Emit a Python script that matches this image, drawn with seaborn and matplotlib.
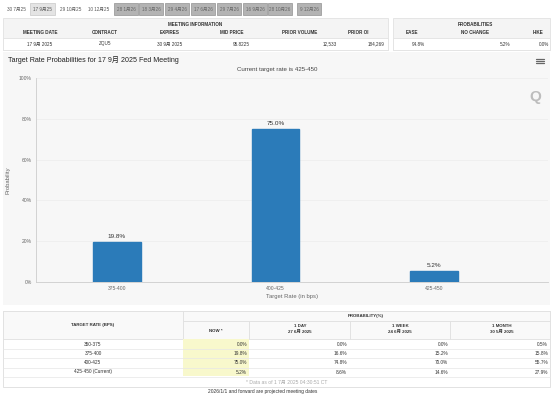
"""
CME FedWatch - 17 9月 2025 议息会议目标利率概率
"""
import matplotlib
matplotlib.use('Agg')
import matplotlib.pyplot as plt
from matplotlib.patches import Rectangle
import seaborn as sns
import pandas as pd

# ---- 数据 ----
meeting_tabs = ['30 7月25', '17 9月25', '29 10月25', '10 12月25']
future_tabs = ['28 1月26', '18 3月26', '29 4月26', '17 6月26',
               '29 7月26', '16 9月26', '28 10月26', '9 12月26']

info_headers = ['MEETING DATE', 'CONTRACT', 'EXPIRES', 'MID PRICE', 'PRIOR VOLUME', 'PRIOR OI']
info_values = ['17 9月 2025', 'ZQU5', '30 9月 2025', '95.8225', '12,533', '184,269']
prob_headers = ['EASE', 'NO CHANGE', 'HIKE']
prob_values = ['94.8%', '5.2%', '0.0%']

bar_ranges = ['375-400', '400-425', '425-450']
bar_probs = [19.8, 75.0, 5.2]

table_ranges = ['350-375', '375-400', '400-425', '425-450 (Current)']
now_probs = [0.0, 19.8, 75.0, 5.2]
day_probs = [0.0, 16.6, 74.8, 8.6]
week_probs = [0.0, 15.2, 70.0, 14.6]
month_probs = [0.5, 15.8, 55.7, 27.9]

sns.set_theme(style='white')
plt.rcParams['font.family'] = ['Liberation Sans', 'Noto Sans CJK SC', 'DejaVu Sans']

W, H = 553, 397
fig = plt.figure(figsize=(W / 100, H / 100), dpi=100)
fig.patch.set_facecolor('white')


def fx(x):
    return x / W


def fy(y):
    return 1 - y / H


def box(x0, y0, x1, y1, fc, ec='none', lw=0.6, z=0):
    fig.add_artist(Rectangle((fx(x0), fy(y1)), fx(x1 - x0), (y1 - y0) / H,
                             transform=fig.transFigure, facecolor=fc,
                             edgecolor=ec, linewidth=lw, zorder=z))


def txt(x, y, s, size=3.6, ha='center', color='#333333', **kw):
    fig.text(fx(x), fy(y), s, fontsize=size, ha=ha, va='center', color=color, **kw)


# ---- 顶部标签页 ----
tab_x = [(4, 29), (30, 55), (57, 84), (86, 111)]
for (a, b), lab in zip(tab_x, meeting_tabs):
    if lab == '17 9月25':
        box(a, 3, b, 15, '#e4e4e4', '#cfcfcf')
    txt((a + b) / 2, 9, lab, size=3.3, color='#555555')
fut_x = [114, 139, 165, 191, 217, 243, 268, 297]
for a, lab in zip(fut_x, future_tabs):
    box(a, 3, a + 24, 15, '#b3b3b3', '#9e9e9e')
    txt(a + 12, 9, lab, size=3.3, color='#666666')

# ---- 会议信息表 ----
box(3, 18, 388, 50, '#f4f4f4', '#e2e2e2')
box(3, 38, 388, 50, 'white', '#e2e2e2')
box(393, 18, 550, 50, '#f4f4f4', '#e2e2e2')
box(393, 38, 550, 50, 'white', '#e2e2e2')
txt(195, 24, 'MEETING INFORMATION', size=3.3, weight='bold')
txt(475, 24, 'PROBABILITIES', size=3.3, weight='bold')
info_x = [40, 105, 170, 232, 300, 358]
for i, (hd, v) in enumerate(zip(info_headers, info_values)):
    txt(info_x[i], 33, hd, size=3.3, weight='bold')
    vx = [40, 105, 170, 250, 337, 385][i]
    txt(vx, 44, v, size=3.3, ha='center' if i < 3 else 'right')
prob_x = [412, 475, 538]
prob_vx = [425, 510, 549]
for hx, vx, hd, v in zip(prob_x, prob_vx, prob_headers, prob_values):
    txt(hx, 33, hd, size=3.3, weight='bold')
    txt(vx, 44, v, size=3.3, ha='right')

# ---- 图表区域 ----
box(3, 52, 550, 305, '#f7f7f7')
txt(8, 60, 'Target Rate Probabilities for 17 9月 2025 Fed Meeting', size=5.1,
    ha='left', color='#222222')
txt(277, 69, 'Current target rate is 425-450', size=4.4, color='#444444')
for dy in (-2, 0, 2):
    fig.add_artist(plt.Line2D([fx(536), fx(544)], [fy(61 + dy)] * 2,
                              transform=fig.transFigure, color='#666666', lw=0.9))
txt(535, 97, 'Q', size=11, color='#bdbdbd', weight='bold')

ax = fig.add_axes([fx(36), fy(282), fx(548 - 36), (282 - 78) / H])
ax.set_facecolor('none')
df = pd.DataFrame({'range': bar_ranges, 'prob': bar_probs})
sns.barplot(data=df, x='range', y='prob', color='#2b7bb9', saturation=1,
            width=0.3, ax=ax, edgecolor='#2b7bb9')
for i, v in enumerate(bar_probs):
    ax.text(i, v + 1.5, f'{v:.1f}%', ha='center', va='bottom', fontsize=4.6, color='#333333')
ax.set_xlim(-0.51, 2.72)
ax.set_ylim(0, 100)
ax.set_yticks([0, 20, 40, 60, 80, 100])
ax.set_yticklabels(['0%', '20%', '40%', '60%', '80%', '100%'])
ax.tick_params(axis='both', labelsize=3.6, colors='#666666', length=0, pad=3)
ax.grid(axis='y', color='#ececec', linewidth=0.5)
ax.set_axisbelow(True)
for s in ['top', 'right']:
    ax.spines[s].set_visible(False)
ax.spines['left'].set_color('#cccccc')
ax.spines['bottom'].set_color('#cccccc')
ax.spines['left'].set_linewidth(0.6)
ax.spines['bottom'].set_linewidth(0.6)
ax.set_xlabel('Target Rate (in bps)', fontsize=4.2, color='#666666', labelpad=2)
ax.set_ylabel('Probability', fontsize=4.2, color='#666666', labelpad=6)

# ---- 底部概率表 ----
box(3, 311, 550, 387, 'white', '#dddddd')
box(3, 311, 183, 339, '#f9f9f9', '#e0e0e0')
box(183, 311, 550, 321, '#f9f9f9', '#e0e0e0')
box(183, 321, 249, 339, '#f9f9f9', '#e0e0e0')
for a, b in [(249, 350), (350, 450), (450, 550)]:
    box(a, 321, b, 339, '#f9f9f9', '#e0e0e0')
box(183, 339, 249, 376, '#f8f8cc')
txt(93, 325, 'TARGET RATE (BPS)', size=3.2, weight='bold')
txt(366, 316, 'PROBABILITY(%)', size=3.2, weight='bold')
txt(216, 331, 'NOW *', size=3.2, weight='bold')
col_hdr = [('1 DAY', '27 6月 2025', 300), ('1 WEEK', '24 6月 2025', 400),
           ('1 MONTH', '30 5月 2025', 502)]
for top, sub, cx in col_hdr:
    txt(cx, 326, top, size=3.2, weight='bold')
    txt(cx, 331.5, sub, size=3.2, weight='bold')

row_y = [344, 353.5, 363, 372]
for i, y in enumerate(row_y):
    fig.add_artist(plt.Line2D([fx(3), fx(550)], [fy(y + 4.5)] * 2,
                              transform=fig.transFigure, color='#e6e6e6', lw=0.5))
    txt(93, y, table_ranges[i], size=3.4)
    for vx, arr in zip([247, 347, 448, 548], [now_probs, day_probs, week_probs, month_probs]):
        txt(vx, y, f'{arr[i]:.1f}%', size=3.4, ha='right')
txt(287, 382, '* Data as of 1 7月 2025 04:30:51 CT', size=3.6, color='#aaaaaa')
txt(263, 392, '2026/1/1 and forward are projected meeting dates', size=3.5, color='#333333')

fig.savefig('out.png', dpi=100)
